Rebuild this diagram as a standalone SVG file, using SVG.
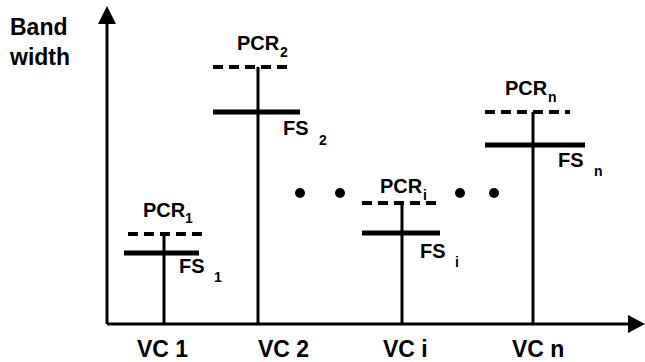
<svg xmlns="http://www.w3.org/2000/svg" width="645" height="362" viewBox="0 0 645 362">
<style>
text{font-family:"Liberation Sans",Arial,sans-serif;font-weight:bold;fill:#000}
.lab{font-size:20px}
.big{font-size:23px}
.sub{font-size:14px}
.stem{stroke:#000;stroke-width:3}
.fs{stroke:#000;stroke-width:5}
.pcr{stroke:#000;stroke-width:4;stroke-dasharray:10 6}
.ax{stroke:#000;stroke-width:3;fill:none}
</style>
<rect width="645" height="362" fill="#fff"/>
<g id="axes">
<line class="ax" x1="107" y1="324" x2="107" y2="20"/>
<polygon points="107,6 98,24 116,24" fill="#000"/>
<line class="ax" x1="107" y1="324" x2="632" y2="324"/>
<polygon points="645,324 628,315 628,333" fill="#000"/>
<text class="big" x="10" y="35">Band</text>
<text class="big" x="10" y="65">width</text>
</g>
<g id="vc1">
<line class="stem" x1="164" y1="233" x2="164" y2="324"/>
<line class="pcr" x1="128" y1="234" x2="208" y2="234"/>
<line class="fs" x1="124" y1="253" x2="199" y2="253"/>
<text class="lab" x="143" y="217">PCR</text><text class="sub" x="185" y="223">1</text>
<text class="lab" x="179" y="273">FS</text><text class="sub" x="214" y="282">1</text>
<text class="big" x="137" y="357">VC 1</text>
</g>
<g id="vc2">
<line class="stem" x1="258" y1="67" x2="258" y2="324"/>
<line class="pcr" x1="213" y1="67" x2="293" y2="67"/>
<line class="fs" x1="213" y1="112" x2="300" y2="112"/>
<text class="lab" x="237" y="50">PCR</text><text class="sub" x="280" y="57">2</text>
<text class="lab" x="283" y="135">FS</text><text class="sub" x="319" y="145">2</text>
<text class="big" x="258" y="357">VC 2</text>
</g>
<g id="vci">
<line class="stem" x1="402" y1="203" x2="402" y2="324"/>
<line class="pcr" x1="362" y1="203" x2="442" y2="203"/>
<line class="fs" x1="362" y1="233" x2="440" y2="233"/>
<text class="lab" x="380" y="193">PCR</text><text class="sub" x="423" y="200">i</text>
<text class="lab" x="420" y="258">FS</text><text class="sub" x="455" y="267">i</text>
<text class="big" x="383" y="357">VC i</text>
</g>
<g id="vcn">
<line class="stem" x1="533" y1="112" x2="533" y2="324"/>
<line class="pcr" x1="485" y1="112" x2="570" y2="112"/>
<line class="fs" x1="485" y1="145" x2="585" y2="145"/>
<text class="lab" x="505" y="95">PCR</text><text class="sub" x="548" y="102">n</text>
<text class="lab" x="558" y="167">FS</text><text class="sub" x="594" y="176">n</text>
<text class="big" x="512" y="357">VC n</text>
</g>
<g id="dots" fill="#000">
<circle cx="300" cy="193" r="5"/>
<circle cx="340" cy="193" r="5"/>
<circle cx="460" cy="193" r="5"/>
<circle cx="494" cy="193" r="5"/>
</g>
</svg>
